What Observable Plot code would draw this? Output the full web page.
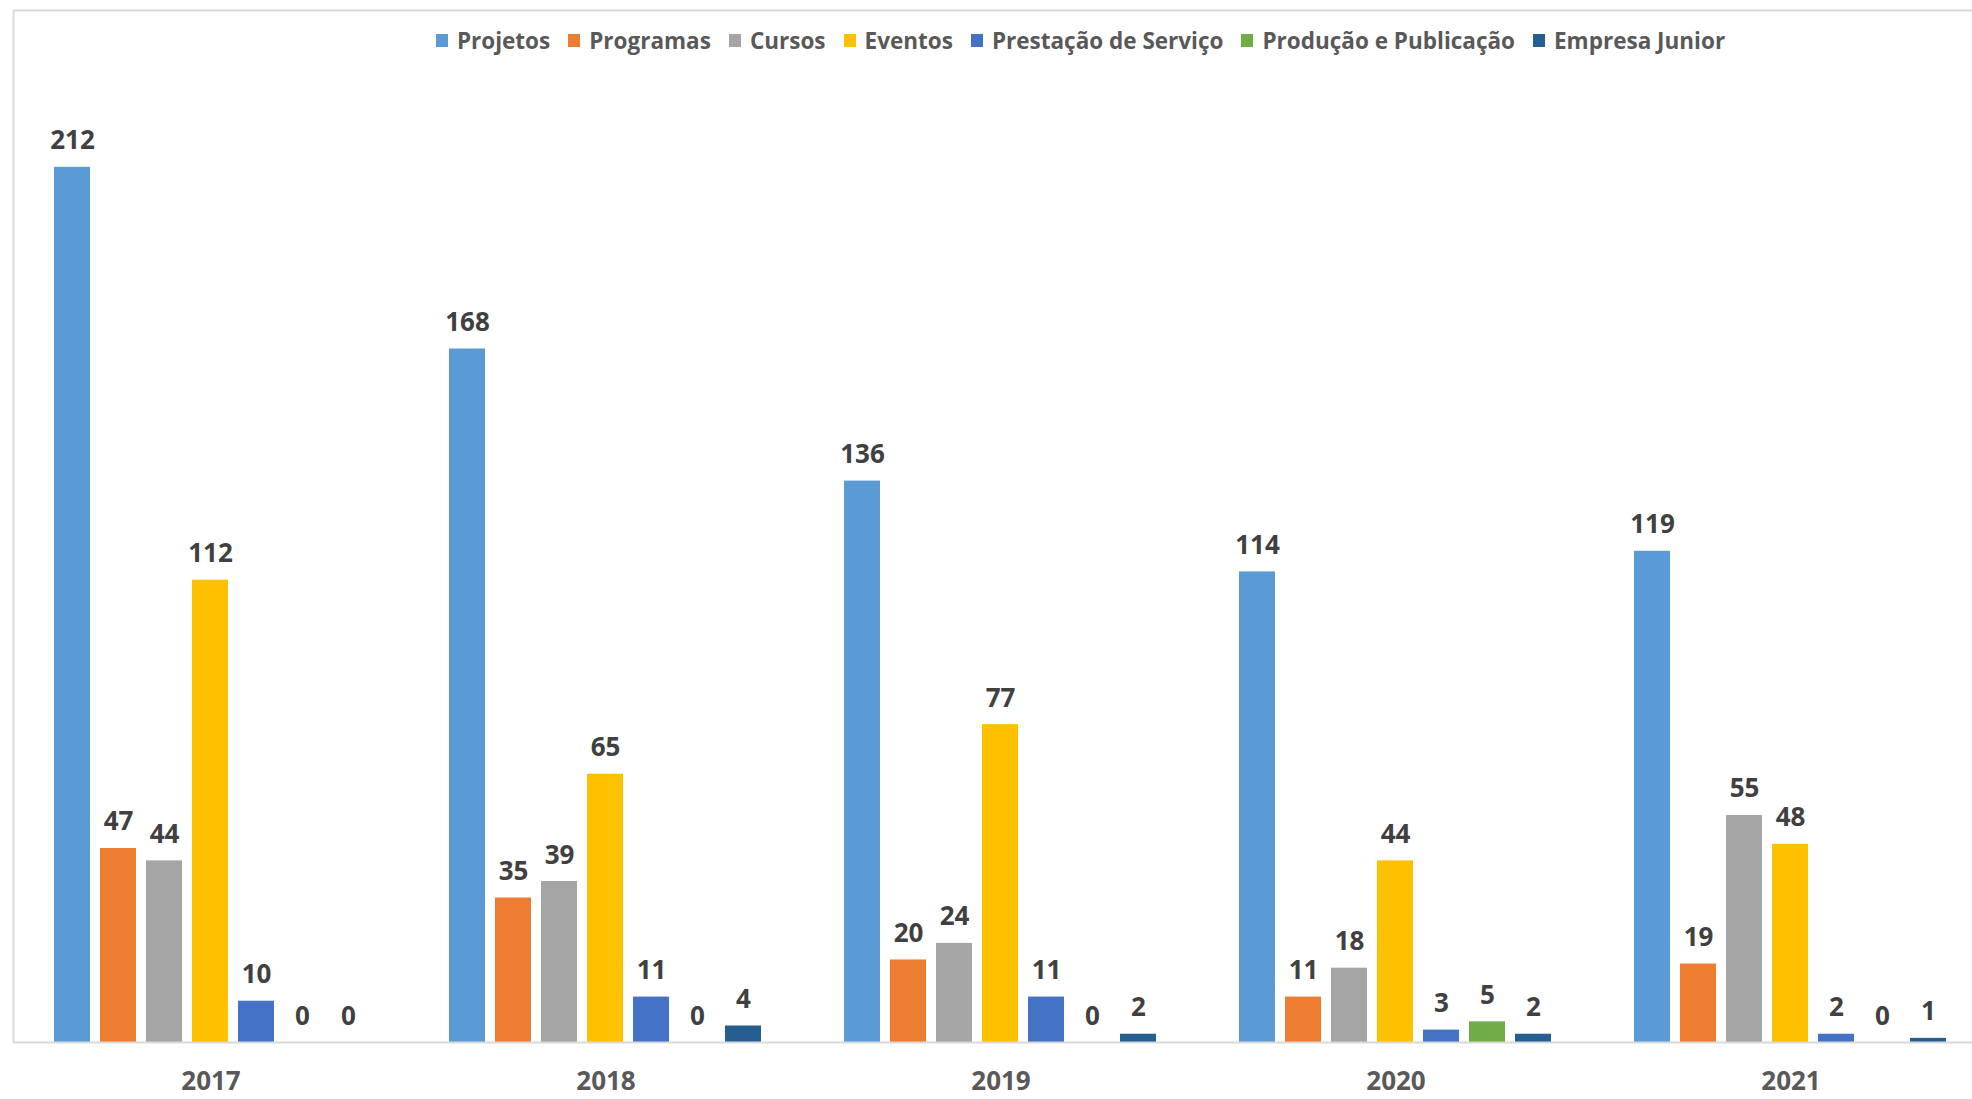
<!DOCTYPE html>
<html>
<head>
<meta charset="utf-8">
<script src="https://cdn.jsdelivr.net/npm/d3@7"></script>
<script src="https://cdn.jsdelivr.net/npm/@observablehq/plot@0.6"></script>
<style>
  html, body { margin: 0; padding: 0; background: #ffffff; overflow: hidden; }
  #wrap { position: relative; width: 1972px; height: 1099px; overflow: hidden; font-family: "Open Sans", sans-serif; }
  #legend { position: absolute; top: 25px; left: 0; width: 2161px; display: flex; justify-content: center; align-items: center; font-size: 22.5px; font-weight: 700; color: #595959; white-space: nowrap; }
  .item { display: flex; align-items: center; margin: 0 9px; }
  .sw { width: 12px; height: 13px; margin-right: 9px; }
  #chart svg { display: block; max-width: none !important; height: 1099px !important; }
</style>
</head>
<body>
<div id="wrap">
  <div id="chart"></div>
  <div id="legend"></div>
</div>
<script>
const years = ["2017", "2018", "2019", "2020", "2021"];
const series = ["Projetos", "Programas", "Cursos", "Eventos", "Prestação de Serviço", "Produção e Publicação", "Empresa Junior"];
const colors = ["#5B9BD5", "#ED7D31", "#A5A5A5", "#FFC000", "#4472C4", "#70AD47", "#255E91"];

const projetos   = [212, 168, 136, 114, 119];
const programas  = [47, 35, 20, 11, 19];
const cursos     = [44, 39, 24, 18, 55];
const eventos    = [112, 65, 77, 44, 48];
const prestacao  = [10, 11, 11, 3, 2];
const producao   = [0, 0, 0, 5, 0];
const empresa    = [0, 4, 2, 2, 1];

const valuesBySeries = [projetos, programas, cursos, eventos, prestacao, producao, empresa];

const data = [];
years.forEach((y, i) => {
  series.forEach((s, j) => {
    data.push({year: y, series: s, value: valuesBySeries[j][i]});
  });
});

const chart = Plot.plot({
  width: 1990,
  height: 1099,
  marginLeft: 11,
  marginRight: 0,
  marginTop: 10,
  marginBottom: 57,
  style: {fontFamily: "'Open Sans', sans-serif", background: "transparent"},
  fx: {domain: years, padding: 0},
  x: {domain: series, paddingInner: 0.21, paddingOuter: 0.86, axis: null},
  y: {domain: [0, 250], axis: null},
  color: {domain: series, range: colors},
  marks: [
    Plot.barY(data, {fx: "year", x: "series", y: "value", fill: "series"}),
    Plot.frame({stroke: "#d9d9d9", strokeWidth: 2, facet: "super"}),
    Plot.text(data, {fx: "year", x: "series", y: "value", text: d => String(d.value), dy: -18, lineAnchor: "bottom", fontSize: 26, fontWeight: "bold", fill: "#404040"}),
    Plot.axisFx({anchor: "bottom", tickSize: 0, tickPadding: 29, fontSize: 26, fontWeight: "bold", color: "#595959", label: null})
  ]
});
document.getElementById("chart").appendChild(chart);

const legend = document.getElementById("legend");
series.forEach((s, j) => {
  const it = document.createElement("div");
  it.className = "item";
  const sw = document.createElement("span");
  sw.className = "sw";
  sw.style.background = colors[j];
  const tx = document.createElement("span");
  tx.textContent = s;
  it.appendChild(sw);
  it.appendChild(tx);
  legend.appendChild(it);
});
</script>
</body>
</html>
